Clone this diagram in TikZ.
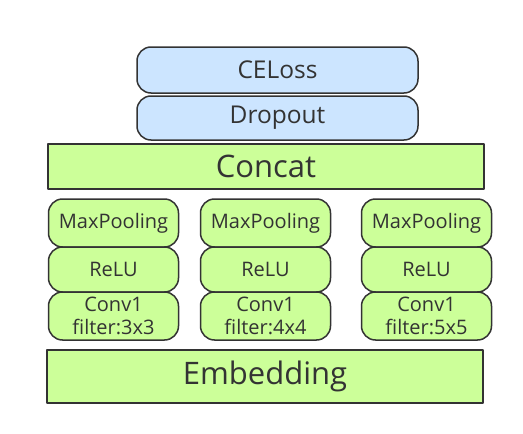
\documentclass[tikz,border=0pt]{standalone}
\usepackage{fontspec}
\setmainfont{Open Sans}
\usepackage{tikz}
\definecolor{layergreen}{HTML}{CCFF99}
\definecolor{layerblue}{HTML}{CCE5FF}
\definecolor{edgegray}{HTML}{333333}

\begin{document}
\begin{tikzpicture}
    [x=1pt,y=-1pt,line join=round,
     layer/.style={draw=edgegray,line width=1.5pt,text=edgegray,inner sep=0pt,anchor=center},
     headbox/.style={layer,fill=layerblue,rounded corners=14pt,minimum width=281pt,font=\fontsize{24.5}{29}\selectfont},
     wide/.style={layer,fill=layergreen,minimum width=436pt,font=\fontsize{31}{37}\selectfont},
     convbox/.style={layer,fill=layergreen,rounded corners=14pt,minimum width=130pt,align=center,font=\fontsize{20}{23}\selectfont}]
\useasboundingbox (0,0) rectangle (523,434);
%top layers
 \node[headbox,minimum height=46pt] (celoss) at (277.5,70) {CELoss};
 \node[headbox,minimum height=44pt] (dropout) at (277.5,118) {Dropout};
 \node[wide,minimum height=45pt] (concat) at (266,166.5) {Concat};
%first column
 \node[convbox,minimum height=48pt] (pool1) at (113.5,223) {MaxPooling};
 \node[convbox,minimum height=45pt] (relu1) at (113.5,269.5) {ReLU};
 \node[convbox,minimum height=48pt] (conv1) at (113.5,316) {Conv1\\filter:3x3};
%second column
 \node[convbox,minimum height=48pt] (pool2) at (265.5,223) {MaxPooling};
 \node[convbox,minimum height=45pt] (relu2) at (265.5,269.5) {ReLU};
 \node[convbox,minimum height=48pt] (conv2) at (265.5,316) {Conv1\\filter:4x4};
%third column
 \node[convbox,minimum height=48pt] (pool3) at (426.5,223) {MaxPooling};
 \node[convbox,minimum height=45pt] (relu3) at (426.5,269.5) {ReLU};
 \node[convbox,minimum height=48pt] (conv3) at (426.5,316) {Conv1\\filter:5x5};
%bottom layer
 \node[wide,minimum height=53pt] (embedding) at (265,376.5) {Embedding};
\end{tikzpicture}
\end{document}
